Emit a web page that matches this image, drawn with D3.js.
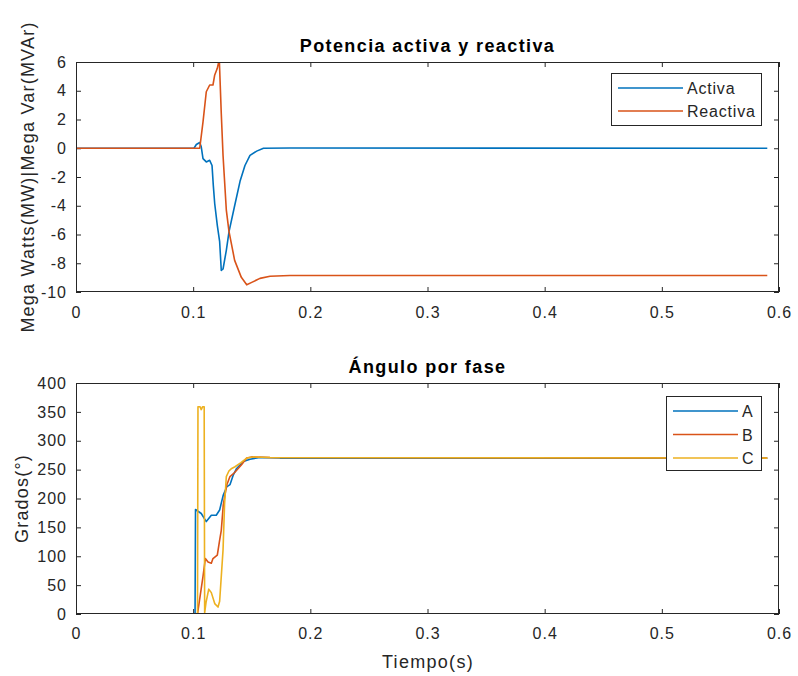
<!DOCTYPE html>
<html>
<head>
<meta charset="utf-8">
<script src="https://cdn.jsdelivr.net/npm/d3@7"></script>
<style>
  html, body { margin: 0; padding: 0; background: #ffffff; }
  svg { display: block; font-family: "Liberation Sans", Arial, Helvetica, sans-serif; }
</style>
</head>
<body>
<svg id="chart" width="798" height="676"></svg>
<script>
// Time axis and tick labels
const timeTicks = [0, 0.1, 0.2, 0.3, 0.4, 0.5, 0.6];
const powerTicks = [6, 4, 2, 0, -2, -4, -6, -8, -10];
const angleTicks = [0, 50, 100, 150, 200, 250, 300, 350, 400];

// Active power (MW): [time s, value]
const activa = [
  [0, 0], [0.1007, 0], [0.1027, 0.26], [0.1056, 0.4], [0.1069, 0.1], [0.1084, -0.72],
  [0.1112, -0.95], [0.1141, -0.84], [0.1161, -1.2], [0.1172, -2.6], [0.1184, -3.86],
  [0.1206, -5.37], [0.1226, -6.5], [0.1240, -8.5], [0.1255, -8.4], [0.1283, -7.1],
  [0.1306, -5.8], [0.1354, -4.0], [0.1400, -2.3], [0.1442, -1.2], [0.1485, -0.5],
  [0.1542, -0.2], [0.1600, 0.0], [0.1826, 0.02], [0.59, 0]
];

// Reactive power (MVAr): [time s, value]
const reactiva = [
  [0, 0], [0.1056, 0], [0.1084, 1.84], [0.1112, 3.93], [0.1141, 4.4], [0.1169, 4.4],
  [0.1184, 5.1], [0.1206, 5.56], [0.1223, 6.2], [0.1240, 2.4], [0.1255, -0.5],
  [0.1266, -2.0], [0.1283, -4.3], [0.1306, -5.8], [0.1354, -7.8], [0.1411, -8.98],
  [0.1457, -9.5], [0.1500, -9.33], [0.1570, -9.05], [0.1656, -8.9], [0.1826, -8.85],
  [0.59, -8.85]
];

// Phase angles (degrees): [time s, value]
const faseA = [
  [0, 0], [0.1016, 0], [0.1020, 181], [0.1069, 174], [0.1112, 160], [0.1155, 171],
  [0.1197, 171], [0.1226, 180], [0.1240, 192], [0.1257, 206], [0.1286, 220],
  [0.1314, 224], [0.1343, 241], [0.1371, 252], [0.1428, 264], [0.1485, 268],
  [0.1570, 271], [0.1740, 270], [0.59, 270]
];
const faseB = [
  [0, 0], [0.1037, 0], [0.1084, 65], [0.1104, 96], [0.1127, 90], [0.1155, 88],
  [0.1169, 96], [0.1206, 102], [0.1226, 128], [0.1240, 145], [0.1257, 189],
  [0.1286, 223], [0.1314, 238], [0.1354, 245], [0.1411, 258], [0.1457, 270],
  [0.1500, 272], [0.1656, 271], [0.59, 270]
];
const faseC = [
  [0, 0], [0.1037, 0], [0.1041, 359], [0.1058, 359], [0.1069, 354], [0.1081, 359],
  [0.1094, 359], [0.1098, 2], [0.1110, 20], [0.1133, 43], [0.1155, 37], [0.1184, 18],
  [0.1212, 12], [0.1226, 22], [0.1255, 111], [0.1268, 190], [0.1283, 238],
  [0.1306, 248], [0.1329, 252], [0.1357, 255], [0.1408, 262], [0.1457, 270],
  [0.1510, 272], [0.1656, 271], [0.59, 270]
];

const COLORS = { blue: "#0072BD", orange: "#D95319", yellow: "#EDB120" };
const AXIS = "#262626";

const svg = d3.select("#chart");

function drawPanel(cfg) {
  const { left, right, top, bottom, yDomain, yTicks, title, yLabel, series, legend, id } = cfg;
  const x = d3.scaleLinear().domain([0, 0.6]).range([left, right]);
  const y = d3.scaleLinear().domain(yDomain).range([bottom, top]);
  const g = svg.append("g");

  g.append("rect").attr("x", left).attr("y", top)
    .attr("width", right - left).attr("height", bottom - top).attr("fill", "#fff");

  svg.append("defs").append("clipPath").attr("id", id)
    .append("rect").attr("x", left).attr("y", top)
    .attr("width", right - left).attr("height", bottom - top);

  const fmt = d => String(d);
  const styleAxis = sel => {
    sel.select(".domain").remove();
    sel.selectAll("line").attr("stroke", AXIS).attr("stroke-width", 1);
    sel.selectAll("text").attr("fill", AXIS)
      .style("font-size", "16px").style("letter-spacing", "1px");
  };

  g.append("g").attr("transform", `translate(0,${bottom})`)
    .call(d3.axisBottom(x).tickValues(timeTicks).tickFormat(fmt).tickSize(-5).tickPadding(cfg.xPad))
    .call(styleAxis);
  g.append("g").attr("transform", `translate(0,${top})`)
    .call(d3.axisTop(x).tickValues(timeTicks).tickFormat("").tickSize(-5))
    .call(styleAxis);
  g.append("g").attr("transform", `translate(${left},0)`)
    .call(d3.axisLeft(y).tickValues(yTicks).tickFormat(fmt).tickSize(-5).tickPadding(9))
    .call(styleAxis);
  g.append("g").attr("transform", `translate(${right},0)`)
    .call(d3.axisRight(y).tickValues(yTicks).tickFormat("").tickSize(-5))
    .call(styleAxis);

  const line = d3.line().x(d => x(d[0])).y(d => y(d[1]));
  const plot = g.append("g").attr("clip-path", `url(#${id})`);
  series.forEach(s => {
    plot.append("path").datum(s.data)
      .attr("fill", "none").attr("stroke", s.color)
      .attr("stroke-width", 1.6).attr("stroke-linejoin", "round")
      .attr("d", line);
  });

  g.append("rect").attr("x", left + 0.5).attr("y", top + 0.5)
    .attr("width", right - left - 1).attr("height", bottom - top - 1)
    .attr("fill", "none").attr("stroke", AXIS).attr("stroke-width", 1);

  g.append("text").attr("x", (left + right) / 2).attr("y", top - 10)
    .attr("text-anchor", "middle").attr("fill", "#000")
    .style("font-size", "18px").style("font-weight", "bold")
    .style("letter-spacing", "1.4px").text(title);

  g.append("text")
    .attr("transform", `translate(${cfg.yLabelX},${(top + bottom) / 2}) rotate(-90)`)
    .attr("text-anchor", "middle").attr("fill", AXIS)
    .style("font-size", "18px").style("letter-spacing", "1.2px").text(yLabel);

  // Legend box
  const lg = g.append("g");
  lg.append("rect").attr("x", legend.x + 0.5).attr("y", legend.y + 0.5)
    .attr("width", legend.w).attr("height", legend.h)
    .attr("fill", "#fff").attr("stroke", AXIS).attr("stroke-width", 1);
  series.forEach((s, i) => {
    const ly = legend.y + legend.first + i * legend.step;
    lg.append("line").attr("x1", legend.x + legend.lineStart).attr("x2", legend.x + legend.lineEnd)
      .attr("y1", ly).attr("y2", ly).attr("stroke", s.color).attr("stroke-width", 1.6);
    lg.append("text").attr("x", legend.x + legend.textX).attr("y", ly + 6)
      .attr("fill", AXIS).style("font-size", "16px").style("letter-spacing", "0.8px").text(s.name);
  });
  return { x, y };
}

drawPanel({
  id: "clipTop", left: 76, right: 779, top: 62, bottom: 292,
  yDomain: [-10, 6], yTicks: powerTicks, xPad: 15,
  title: "Potencia activa y reactiva",
  yLabel: "Mega Watts(MW)|Mega Var(MVAr)", yLabelX: 34,
  series: [
    { name: "Activa", color: COLORS.blue, data: activa },
    { name: "Reactiva", color: COLORS.orange, data: reactiva }
  ],
  legend: { x: 611, y: 73, w: 150, h: 52, first: 15, step: 23, lineStart: 7, lineEnd: 72, textX: 76 }
});

drawPanel({
  id: "clipBottom", left: 76, right: 779, top: 383, bottom: 614,
  yDomain: [0, 400], yTicks: angleTicks, xPad: 14,
  title: "Ángulo por fase",
  yLabel: "Grados(°)", yLabelX: 28,
  series: [
    { name: "A", color: COLORS.blue, data: faseA },
    { name: "B", color: COLORS.orange, data: faseB },
    { name: "C", color: COLORS.yellow, data: faseC }
  ],
  legend: { x: 666, y: 396, w: 95, h: 74, first: 15, step: 23.5, lineStart: 7, lineEnd: 72, textX: 76 }
});

svg.append("text").attr("x", 428).attr("y", 668)
  .attr("text-anchor", "middle").attr("fill", AXIS)
  .style("font-size", "18px").style("letter-spacing", "1.3px").text("Tiempo(s)");
</script>
</body>
</html>
